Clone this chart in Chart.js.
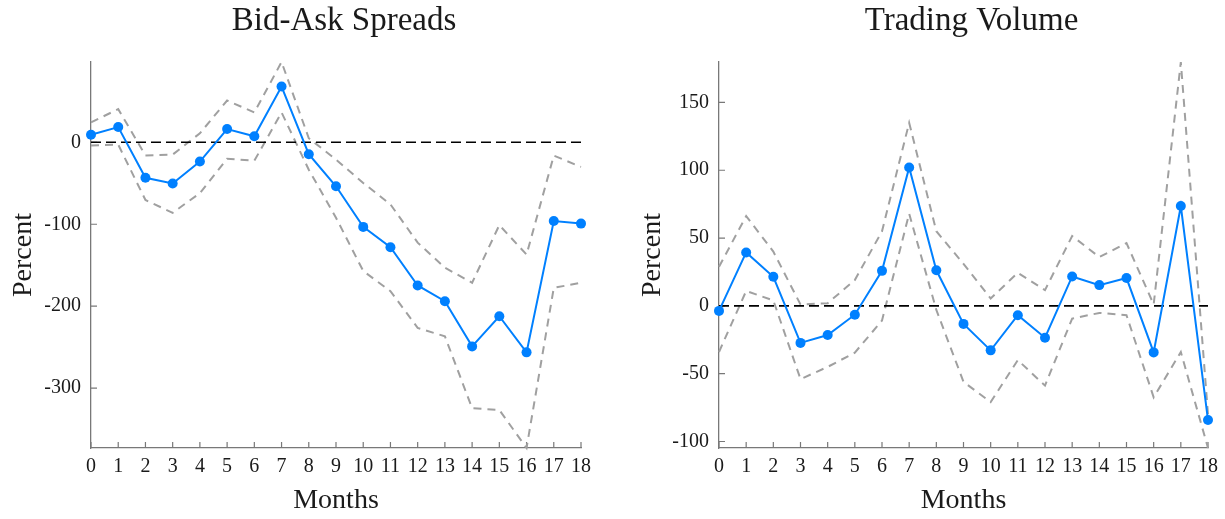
<!DOCTYPE html>
<html><head><meta charset="utf-8">
<script src="https://cdn.jsdelivr.net/npm/chart.js@4"></script>
<style>
html,body{margin:0;padding:0;background:#fff;overflow:hidden;}
#w1{position:absolute;left:0;top:0;width:612px;height:519px;}
#w2{position:absolute;left:612px;top:0;width:613px;height:519px;}
</style></head><body>
<div id="w1"><canvas id="c1"></canvas></div>
<div id="w2"><canvas id="c2"></canvas></div>
<script>
const months = [0,1,2,3,4,5,6,7,8,9,10,11,12,13,14,15,16,17,18];

const spreadMean  = [9.3, 18.6, -43.3, -50.2, -23.5, 16.2, 7.3, 68, -14.5, -53.6, -103.2, -128, -174.7, -193.9, -249, -212.2, -256.3, -96, -99.2];
const spreadUpper = [24.3, 40.5, -16, -15, 11, 51, 36.4, 98, 5, -21, -49.6, -75.7, -122.4, -153, -171.4, -101, -137, -16.2, -30];
const spreadLower = [-4, -2.8, -70.4, -86, -62, -20, -22.5, 36.4, -33.4, -92, -157, -181.6, -226.5, -236.7, -324.5, -326.5, -373, -177.6, -171.4];

const volMean  = [-3.7, 39.4, 21.4, -27.3, -21.5, -6.5, 25.8, 102, 26.2, -13.3, -32.8, -6.9, -23.5, 21.7, 15.3, 20.5, -34.3, 73.6, -84.2];
const volUpper = [28.8, 66.2, 40, 1, 2, 19, 55, 135, 55, 31, 5.4, 24.4, 11.6, 51.5, 36, 46.3, 1, 179.8, -80];
const volLower = [-34, 11, 4, -54, -45, -34.5, -10.8, 68, -3, -56, -71, -40, -58.8, -9.4, -5.2, -6.9, -67.4, -34, -104.8];

const spreadTickStep = 100;
const volTickStep = 50;

const BLUE = 'rgb(0,128,255)';
const GRAY = 'rgb(160,160,160)';
const AXIS = 'rgb(120,120,120)';
const TXT = '#1a1a1a';
const FONT = "'Liberation Serif', 'Times New Roman', serif";

const inwardTicks = {
  id: 'inwardTicks',
  beforeDatasetsDraw(chart) {
    const {ctx, chartArea: a, scales: {x, y}} = chart;
    ctx.save();
    ctx.strokeStyle = AXIS;
    ctx.lineWidth = 1.2;
    ctx.beginPath();
    x.ticks.forEach((t, i) => {
      const px = x.getPixelForTick(i);
      ctx.moveTo(px, a.bottom); ctx.lineTo(px, a.bottom - 6);
    });
    y.ticks.forEach((t, i) => {
      const py = y.getPixelForTick(i);
      ctx.moveTo(a.left, py); ctx.lineTo(a.left + 6, py);
    });
    ctx.stroke();
    ctx.restore();
  }
};

const areaTitle = {
  id: 'areaTitle',
  afterDraw(chart, args, opts) {
    const {ctx, chartArea: a} = chart;
    ctx.save();
    ctx.fillStyle = TXT;
    ctx.font = '33px ' + FONT;
    ctx.textAlign = 'center';
    ctx.textBaseline = 'alphabetic';
    ctx.fillText(opts.text, (a.left + a.right) / 2 + 8, 30);
    ctx.restore();
  }
};

function makeChart(id, title, mean, upper, lower, step, yWidth, padRight, yTitlePad) {
  const zero = months.map(() => 0);
  const band = (d) => ({
    data: d, borderColor: GRAY, borderWidth: 2, borderDash: [8, 6],
    pointRadius: 0, fill: false, tension: 0, order: 3, clip: false
  });
  return new Chart(document.getElementById(id), {
    type: 'line',
    data: {
      labels: months,
      datasets: [
        {data: mean, borderColor: BLUE, backgroundColor: BLUE, borderWidth: 2,
         pointRadius: 5, pointHoverRadius: 5, pointBackgroundColor: BLUE, pointBorderWidth: 0,
         tension: 0, order: 0, clip: false},
        {data: zero, borderColor: '#000', borderWidth: 1.6, borderDash: [10, 5],
         pointRadius: 0, order: 1, clip: false},
        band(upper),
        band(lower)
      ]
    },
    options: {
      responsive: true, maintainAspectRatio: false, animation: false,
      events: [],
      layout: {padding: {left: 0, right: padRight, top: 62, bottom: 0}},
      plugins: {
        legend: {display: false}, tooltip: {enabled: false},
        title: {display: false},
        areaTitle: {text: title}
      },
      scales: {
        x: {
          type: 'category', offset: false,
          grid: {display: true, drawOnChartArea: false, drawTicks: false},
          border: {display: true, color: AXIS, width: 1.3},
          ticks: {color: TXT, font: {family: FONT, size: 20}, padding: 7, autoSkip: false, maxRotation: 0},
          title: {display: true, text: 'Months', color: TXT,
            font: {family: FONT, size: 28, lineHeight: 1.2}, padding: {top: 0, bottom: 2}},
          afterFit: (s) => { s.height = 71; }
        },
        y: {
          type: 'linear',
          min: Math.min(...lower), max: Math.max(...upper),
          grid: {display: true, drawOnChartArea: false, drawTicks: false},
          border: {display: true, color: AXIS, width: 1.3},
          ticks: {stepSize: step, includeBounds: false, color: TXT,
            font: {family: FONT, size: 20}, padding: 10},
          title: {display: true, text: 'Percent', color: TXT,
            font: {family: FONT, size: 28, lineHeight: 1.2}, padding: {top: yTitlePad, bottom: 0}},
          afterFit: (s) => { s.width = yWidth; }
        }
      }
    },
    plugins: [inwardTicks, areaTitle]
  });
}

makeChart('c1', 'Bid-Ask Spreads', spreadMean, spreadUpper, spreadLower, spreadTickStep, 91, 31, 6.5);
makeChart('c2', 'Trading Volume', volMean, volUpper, volLower, volTickStep, 107, 16, 23.5);
</script>
</body></html>
